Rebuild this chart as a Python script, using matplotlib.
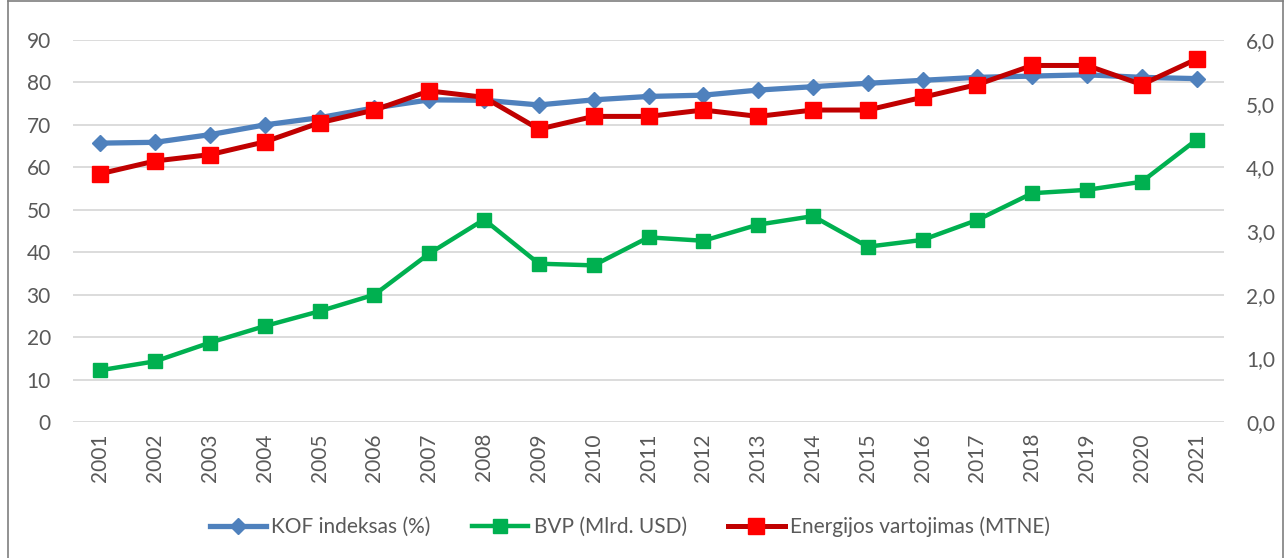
import matplotlib
matplotlib.use("Agg")
import matplotlib.pyplot as plt
from matplotlib.ticker import FixedLocator, FuncFormatter
from matplotlib.lines import Line2D

years = [str(y) for y in range(2001, 2022)]
kof = [65.7, 65.9, 67.7, 70.0, 71.7, 74.0, 75.9, 75.8, 74.7, 75.9, 76.7,
       77.0, 78.2, 79.0, 79.8, 80.5, 81.2, 81.5, 81.8, 81.2, 80.9]
bvp = [12.2, 14.3, 18.7, 22.6, 26.1, 30.0, 39.7, 47.7, 37.3, 36.9, 43.5,
       42.7, 46.5, 48.5, 41.3, 42.9, 47.6, 53.9, 54.7, 56.6, 66.5]
energy = [3.9, 4.1, 4.2, 4.4, 4.7, 4.9, 5.2, 5.1, 4.6, 4.8, 4.8,
          4.9, 4.8, 4.9, 4.9, 5.1, 5.3, 5.6, 5.6, 5.3, 5.7]
labels = ["KOF indeksas (%)", "BVP (Mlrd. USD)", "Energijos vartojimas (MTNE)"]
left_ticks = [0, 10, 20, 30, 40, 50, 60, 70, 80, 90]
right_ticks = [0, 1, 2, 3, 4, 5, 6]

plt.rcParams['font.family'] = ['Lato', 'DejaVu Sans']
txt = '#595959'

fig = plt.figure(figsize=(12.85, 5.58), dpi=100)
ax = fig.add_axes([73/1285, 1-422/558, (1224-73)/1285, (422-40)/558])
ax2 = ax.twinx()

x = list(range(len(years)))
c_blue = '#4F81BD'
c_green = '#00B050'
c_red_line = '#C00000'
c_red_mk = '#FF0000'

ax.plot(x, kof, color=c_blue, lw=3.8, marker='D', ms=8.5, mfc=c_blue, mec=c_blue, zorder=3)
ax.plot(x, bvp, color=c_green, lw=3.2, marker='s', ms=10, mfc=c_green, mec=c_green, zorder=3)
ax2.plot(x, energy, color=c_red_line, lw=3.6, marker='s', ms=11.5, mfc=c_red_mk, mec=c_red_mk, zorder=3)

ax.set_xlim(-0.5, len(years) - 0.5)
ax.set_ylim(0, 90)
ax2.set_ylim(0, 6)
ax.yaxis.set_major_locator(FixedLocator(left_ticks))
ax2.yaxis.set_major_locator(FixedLocator(right_ticks))
ax2.yaxis.set_major_formatter(FuncFormatter(lambda v, p: f"{v:.1f}".replace('.', ',')))
ax.set_xticks(x)
ax.set_xticklabels(years, rotation=90)

ax.grid(axis='y', color='#D9D9D9', lw=1.3, zorder=0)
ax.set_axisbelow(True)
for a in (ax, ax2):
    for s in a.spines.values():
        s.set_visible(False)
    a.tick_params(length=0, colors=txt, labelsize=15)
ax.tick_params(axis='y', pad=16)
ax2.tick_params(axis='y', pad=16)
ax.tick_params(axis='x', pad=8)

handles = [
    Line2D([], [], color=c_blue, lw=3.8, marker='D', ms=8.5, mfc=c_blue, mec=c_blue),
    Line2D([], [], color=c_green, lw=3.2, marker='s', ms=10, mfc=c_green, mec=c_green),
    Line2D([], [], color=c_red_line, lw=3.6, marker='s', ms=11.5, mfc=c_red_mk, mec=c_red_mk),
]
fig.legend(handles, labels, loc='center', bbox_to_anchor=(0.49, 1-527/558), ncol=3,
           frameon=False, fontsize=15, labelcolor=txt, handlelength=2.7,
           handletextpad=0.25, columnspacing=2.0)

# outer chart border
bc = '#7F7F7F'
fig.add_artist(Line2D([8/1285, 8/1285], [0, 1-1/558], color=bc, lw=1.2, transform=fig.transFigure))
fig.add_artist(Line2D([8/1285, 1283/1285], [1-1/558, 1-1/558], color=bc, lw=1.2, transform=fig.transFigure))
fig.add_artist(Line2D([1283/1285, 1283/1285], [0, 1-1/558], color=bc, lw=1.2, transform=fig.transFigure))

fig.savefig('out.png', dpi=100)
